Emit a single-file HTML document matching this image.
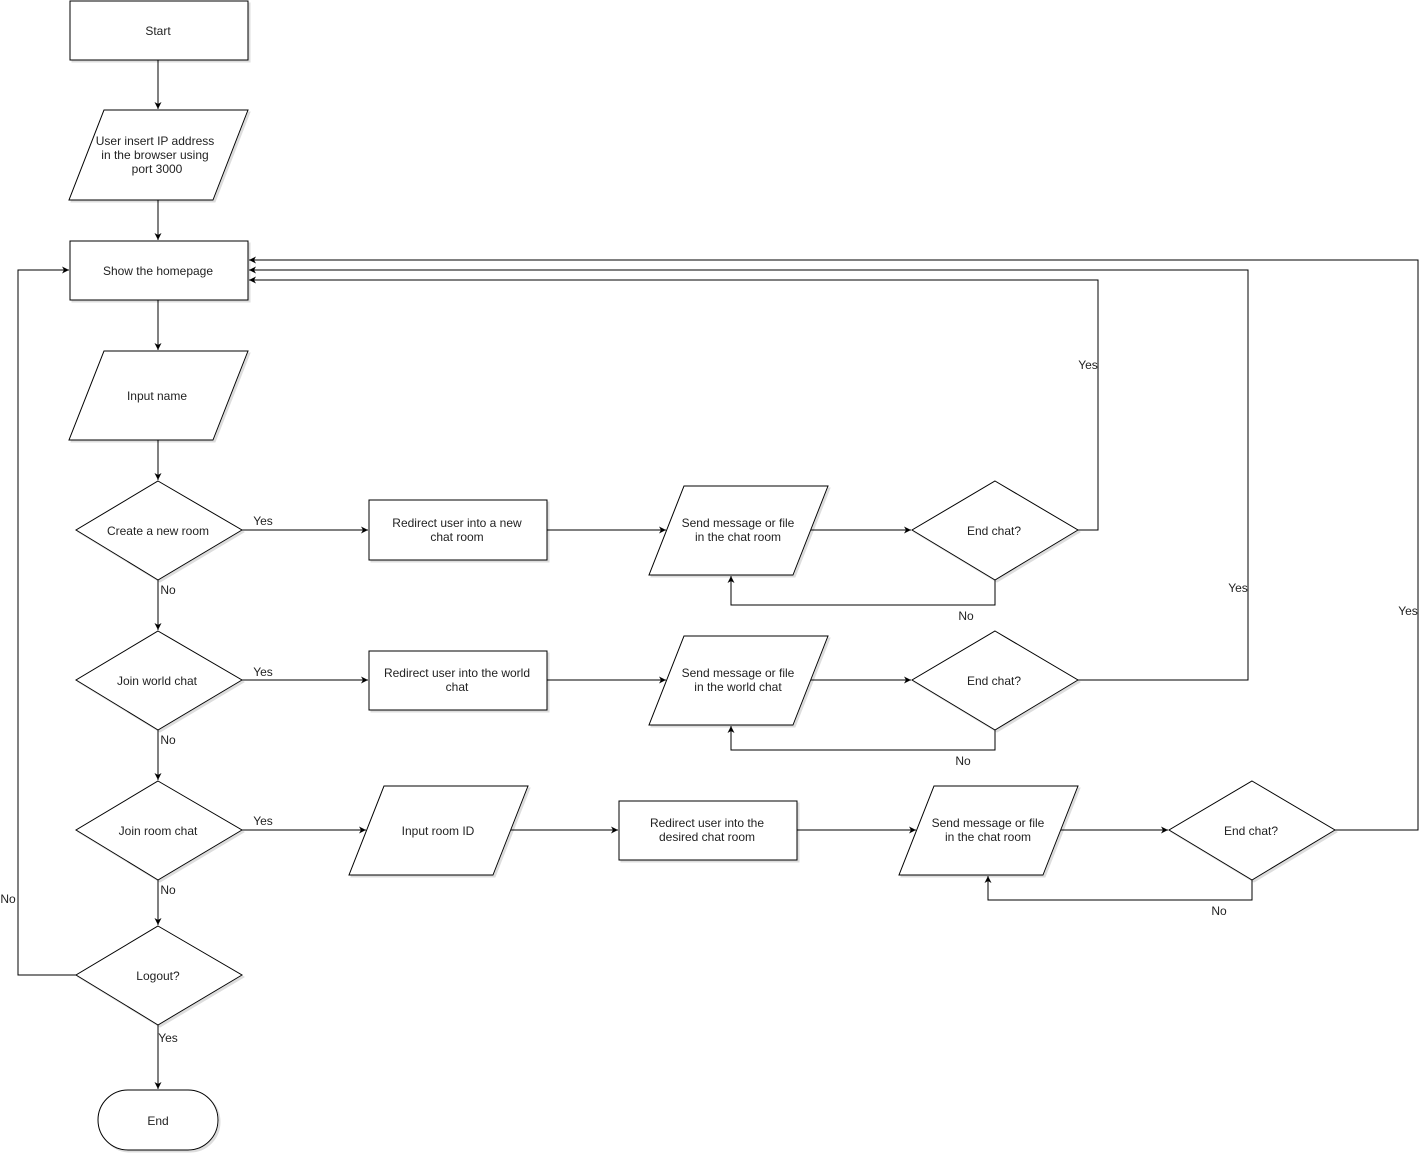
<!DOCTYPE html>
<html><head><style>body{margin:0;background:#fff}svg{display:block}text{font-family:"Liberation Sans",sans-serif;font-size:12px;fill:#222}</style></head><body>
<svg width="1427" height="1155" viewBox="0 0 1427 1155" xmlns="http://www.w3.org/2000/svg">
<defs>
<marker id="a" markerWidth="8" markerHeight="8" refX="7" refY="4" orient="auto" markerUnits="userSpaceOnUse"><path d="M0,0.5 L7,4 L0,7.5 L2,4 Z" fill="#000"/></marker>
<filter id="s" x="-5%" y="-5%" width="115%" height="115%"><feOffset dx="2" dy="2" in="SourceAlpha" result="o"/><feColorMatrix in="o" type="matrix" values="0 0 0 0 0.5 0 0 0 0 0.5 0 0 0 0 0.5 0 0 0 0.5 0" result="c"/><feMerge><feMergeNode in="c"/><feMergeNode in="SourceGraphic"/></feMerge></filter>
</defs>
<g fill="#fff" stroke="#000" stroke-width="1" filter="url(#s)">
<rect x="70" y="1" width="178" height="59"/>
<polygon points="104,110 248,110 213,200 69,200"/>
<rect x="70" y="241" width="178" height="59"/>
<polygon points="104,351 248,351 213,440 69,440"/>
<polygon points="158,481 242,530 158,580 76,530"/>
<polygon points="158,631 242,680 158,730 76,680"/>
<polygon points="158,781 242,830 158,880 76,830"/>
<polygon points="158,926 242,975 158,1025 76,975"/>
<rect x="98" y="1090" width="120" height="60" rx="30"/>
<rect x="369" y="500" width="178" height="60"/>
<polygon points="684,486 828,486 793,575 649,575"/>
<polygon points="995,481 1078,530 995,580 912,530"/>
<rect x="369" y="651" width="178" height="59"/>
<polygon points="684,636 828,636 793,725 649,725"/>
<polygon points="995,631 1078,680 995,730 912,680"/>
<polygon points="384,786 528,786 493,875 349,875"/>
<rect x="619" y="801" width="178" height="59"/>
<polygon points="934,786 1078,786 1043,875 899,875"/>
<polygon points="1252,781 1335,830 1252,880 1169,830"/>
</g>
<g fill="none" stroke="#000" stroke-width="1" marker-end="url(#a)">
<path d="M158,60V109"/><path d="M158,200V240"/><path d="M158,300V350"/><path d="M158,440V480"/>
<path d="M158,580V630"/><path d="M158,730V780"/><path d="M158,880V925"/><path d="M158,1025V1089"/>
<path d="M242,530H368"/><path d="M547,530H666"/><path d="M811,530H911"/>
<path d="M242,680H368"/><path d="M547,680H666"/><path d="M811,680H911"/>
<path d="M242,830H366"/><path d="M511,830H618"/><path d="M797,830H916"/><path d="M1061,830H1168"/>
<path d="M995,580V605H731V576"/><path d="M995,730V750H731V726"/><path d="M1252,880V900H988V876"/>
<path d="M1078,530H1098V280H249"/><path d="M1078,680H1248V270H249"/><path d="M1335,830H1418V260H249"/>
<path d="M76,975H18V270H69"/>
</g>
<g text-anchor="middle">
<text x="158" y="35">Start</text>
<text x="155" y="145">User insert IP address</text><text x="155" y="159">in the browser using</text><text x="157" y="173">port 3000</text>
<text x="158" y="275">Show the homepage</text>
<text x="157" y="400">Input name</text>
<text x="158" y="535">Create a new room</text>
<text x="157" y="685">Join world chat</text>
<text x="158" y="835">Join room chat</text>
<text x="158" y="980">Logout?</text>
<text x="158" y="1125">End</text>
<text x="457" y="527">Redirect user into a new</text><text x="457" y="541">chat room</text>
<text x="738" y="527">Send message or file</text><text x="738" y="541">in the chat room</text>
<text x="994" y="535">End chat?</text>
<text x="457" y="677">Redirect user into the world</text><text x="457" y="691">chat</text>
<text x="738" y="677">Send message or file</text><text x="738" y="691">in the world chat</text>
<text x="994" y="685">End chat?</text>
<text x="438" y="835">Input room ID</text>
<text x="707" y="827">Redirect user into the</text><text x="707" y="841">desired chat room</text>
<text x="988" y="827">Send message or file</text><text x="988" y="841">in the chat room</text>
<text x="1251" y="835">End chat?</text>
<text x="263" y="525">Yes</text><text x="263" y="676">Yes</text><text x="263" y="825">Yes</text>
<text x="168" y="594">No</text><text x="168" y="744">No</text><text x="168" y="894">No</text><text x="168" y="1042">Yes</text>
<text x="8" y="903">No</text>
<text x="966" y="620">No</text><text x="963" y="765">No</text><text x="1219" y="915">No</text>
<text x="1088" y="369">Yes</text><text x="1238" y="592">Yes</text><text x="1408" y="615">Yes</text>
</g>
</svg>
</body></html>
